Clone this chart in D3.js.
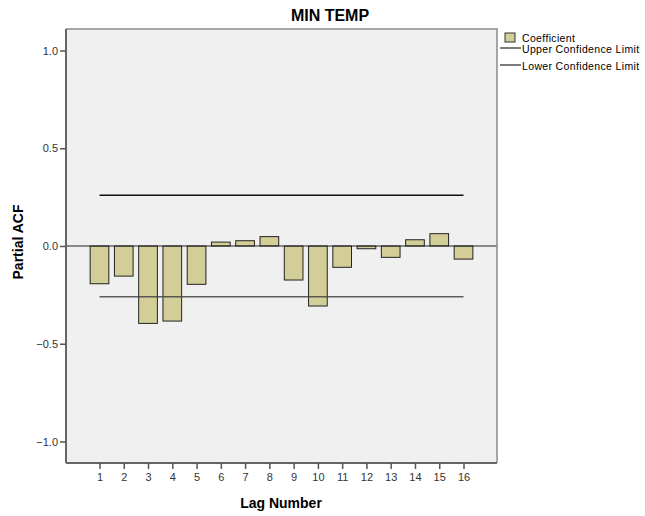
<!DOCTYPE html>
<html>
<head>
<meta charset="utf-8">
<script src="https://cdn.jsdelivr.net/npm/d3@7.9.0/dist/d3.min.js"></script>
<style>
  body { margin: 0; background: #fff; }
  svg { font-family: 'Liberation Sans', Arial, sans-serif; }
</style>
</head>
<body>
<svg id="chart" width="645" height="516"></svg>
<script>
const lags = d3.range(1, 17);
const coefficients = [-0.193, -0.154, -0.396, -0.384, -0.196, 0.020, 0.027, 0.048,
                      -0.174, -0.307, -0.109, -0.014, -0.058, 0.032, 0.063, -0.067];
const upperLimit = 0.26;
const lowerLimit = -0.26;
const yTicks = [1.0, 0.5, 0.0, -0.5, -1.0];

const svg = d3.select('#chart');
const plot = { left: 66, top: 29, right: 497, bottom: 463 };

let x = d3.scalePoint()
    .domain(lags)
    .range([plot.left, plot.right])
    .padding(1.38);

let y = d3.scaleLinear()
    .domain([-1.11, 1.11])
    .range([plot.bottom, plot.top]);

let barWidth = x.step() * 0.77;

// plot background
svg.append('rect')
    .attr('x', plot.left).attr('y', plot.top)
    .attr('width', plot.right - plot.left).attr('height', plot.bottom - plot.top)
    .attr('fill', '#f0f0f0');

// bars
svg.append('g').selectAll('rect')
    .data(lags)
    .join('rect')
    .attr('x', (d) => x(d) - barWidth / 2)
    .attr('y', (d, i) => y(Math.max(0, coefficients[i])))
    .attr('width', barWidth)
    .attr('height', (d, i) => Math.abs(y(coefficients[i]) - y(0)))
    .attr('fill', '#d3ce98')
    .attr('stroke', '#222')
    .attr('stroke-width', 1);

// confidence limits
svg.append('line')
    .attr('x1', x(1)).attr('x2', x(16))
    .attr('y1', y(upperLimit)).attr('y2', y(upperLimit))
    .attr('stroke', '#111').attr('stroke-width', 1.5);
svg.append('line')
    .attr('x1', x(1)).attr('x2', x(16))
    .attr('y1', y(lowerLimit)).attr('y2', y(lowerLimit))
    .attr('stroke', '#444').attr('stroke-width', 1.5).attr('opacity', 0.85);

// zero reference line
svg.append('line')
    .attr('x1', plot.left).attr('x2', plot.right)
    .attr('y1', y(0)).attr('y2', y(0))
    .attr('stroke', '#222').attr('stroke-width', 1.2);

// frame
svg.append('path')
    .attr('d', `M${plot.left},${plot.top}H${plot.right}V${plot.bottom}`)
    .attr('fill', 'none').attr('stroke', '#8a8a8a').attr('stroke-width', 1.5);

// axes
let yAxis = svg.append('g')
    .attr('transform', `translate(${plot.left},0)`)
    .call(d3.axisLeft(y).tickValues(yTicks).tickFormat(d3.format('.1f')).tickSize(6).tickPadding(2));
let xAxis = svg.append('g')
    .attr('transform', `translate(0,${plot.bottom})`)
    .call(d3.axisBottom(x).tickSize(6).tickPadding(4));

[yAxis, xAxis].forEach((axis) => {
    axis.select('.domain').attr('stroke', '#666').attr('stroke-width', 2);
    axis.selectAll('.tick line').attr('stroke', '#555').attr('stroke-width', 1.5);
    axis.selectAll('text')
        .attr('font-size', 11)
        .attr('font-family', "'Liberation Sans', Arial, sans-serif")
        .attr('fill', '#333');
});
yAxis.select('.domain').attr('d', `M0,${plot.top}V${plot.bottom}`);
xAxis.select('.domain').attr('d', `M${plot.left},0H${plot.right}`);

// titles
svg.append('text')
    .attr('x', 330).attr('y', 21)
    .attr('text-anchor', 'middle')
    .attr('font-size', 16).attr('font-weight', 'bold')
    .text('MIN TEMP');

svg.append('text')
    .attr('x', 281).attr('y', 508)
    .attr('text-anchor', 'middle')
    .attr('font-size', 14).attr('font-weight', 'bold')
    .text('Lag Number');

svg.append('text')
    .attr('transform', 'translate(23,242) rotate(-90)')
    .attr('text-anchor', 'middle')
    .attr('font-size', 14).attr('font-weight', 'bold')
    .text('Partial ACF');

// legend
let legend = svg.append('g').attr('font-size', 10.5).attr('letter-spacing', 0.35);
legend.append('rect')
    .attr('x', 505).attr('y', 33).attr('width', 10).attr('height', 9)
    .attr('fill', '#d3ce98').attr('stroke', '#333');
legend.append('text').attr('x', 522).attr('y', 41.5).text('Coefficient');

let legendLines = ['Upper Confidence Limit', 'Lower Confidence Limit'];
legendLines.forEach((label, i) => {
    let ly = 48 + i * 17;
    legend.append('line')
        .attr('x1', 500).attr('x2', 521)
        .attr('y1', ly).attr('y2', ly)
        .attr('stroke', '#222').attr('stroke-width', 1.2);
    legend.append('text').attr('x', 522).attr('y', ly + 5).text(label);
});
</script>
</body>
</html>
